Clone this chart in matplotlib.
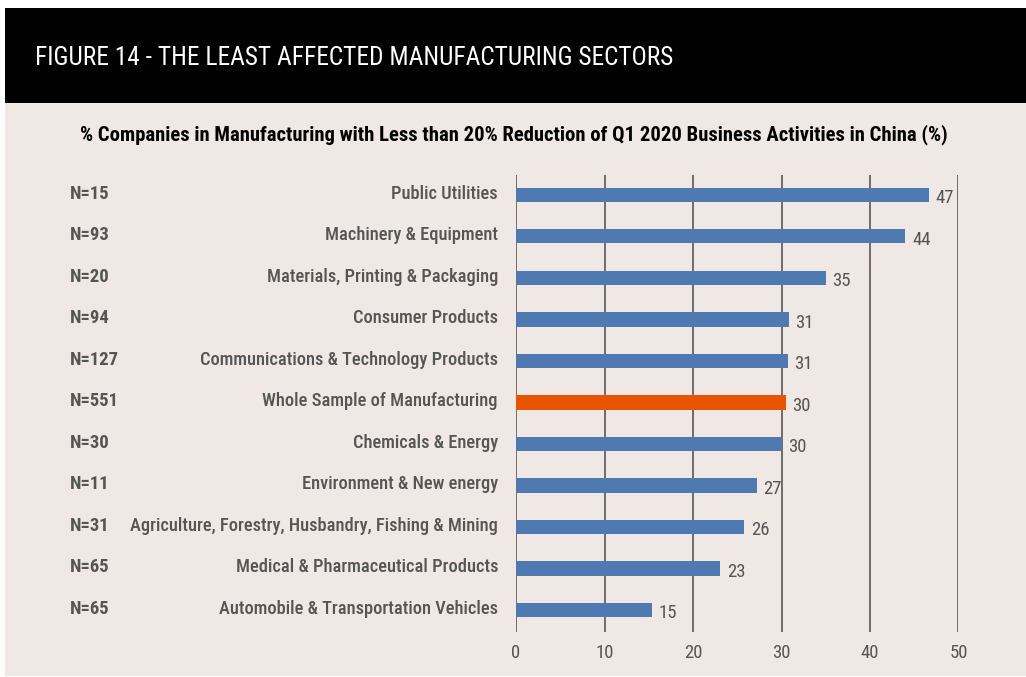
import matplotlib
matplotlib.use('Agg')
import matplotlib.pyplot as plt
from matplotlib.patches import Rectangle

plt.rcParams['font.family'] = ['Roboto Condensed', 'Archivo Narrow', 'DejaVu Sans']

sectors = [
    "Public Utilities",
    "Machinery & Equipment",
    "Materials, Printing & Packaging",
    "Consumer Products",
    "Communications & Technology Products",
    "Whole Sample of Manufacturing",
    "Chemicals & Energy",
    "Environment & New energy",
    "Agriculture, Forestry, Husbandry, Fishing & Mining",
    "Medical & Pharmaceutical Products",
    "Automobile & Transportation Vehicles",
]
sample_sizes = ["N=15", "N=93", "N=20", "N=94", "N=127", "N=551",
                "N=30", "N=11", "N=31", "N=65", "N=65"]
values = [46.7, 44.0, 35.0, 30.8, 30.7, 30.5, 30.0, 27.2, 25.8, 23.1, 15.4]
value_labels = ["47", "44", "35", "31", "31", "30", "30", "27", "26", "23", "15"]
highlight = "Whole Sample of Manufacturing"
xticks = [0, 10, 20, 30, 40, 50]

BLUE = '#4E7AB1'
ORANGE = '#E85400'
BG = '#EFE8E5'
GREY = '#555555'
W, H = 1026, 677

fig = plt.figure(figsize=(W / 100, H / 100), dpi=100)
fig.patch.set_facecolor('white')

# beige panel and black header band
fig.add_artist(Rectangle((5 / W, 1 / H), 1 - 5 / W, (H - 9) / H,
                         transform=fig.transFigure, facecolor=BG, edgecolor='none', zorder=0))
fig.add_artist(Rectangle((5 / W, 1 - 103 / H), 1 - 5 / W, 95 / H,
                         transform=fig.transFigure, facecolor='black', edgecolor='none', zorder=0))

fig.text(35 / W, 1 - 58 / H, "FIGURE 14 - THE LEAST AFFECTED MANUFACTURING SECTORS",
         color='white', fontsize=18.3, va='center', ha='left')
fig.text(514 / W, 1 - 135 / H,
         "% Companies in Manufacturing with Less than 20% Reduction of Q1 2020 Business Activities in China (%)",
         color='black', fontsize=14.9, fontweight='bold', va='center', ha='center')

ax = fig.add_axes([516 / W, 1 - 632 / H, 442.5 / W, 457 / H])
ax.set_facecolor('none')

pos = list(range(len(sectors)))
colors = [ORANGE if s == highlight else BLUE for s in sectors]
ax.barh(pos, values, height=0.34, color=colors, zorder=3)

for p, v, lab in zip(pos, values, value_labels):
    ax.text(v + 0.75, p + 0.08, lab, color=GREY, fontsize=13.5,
            va='center', ha='left', zorder=4)

for x in xticks:
    ax.axvline(x, color='#4a4a4a', lw=1.1, zorder=1)

ax.set_xlim(0, 50)
ax.set_ylim(10.53, -0.48)
ax.set_xticks(xticks)
ax.set_xticklabels([str(t) for t in xticks], color=GREY, fontsize=13.5)
ax.tick_params(axis='x', length=0, pad=9)
ax.set_yticks([])
for sp in ax.spines.values():
    sp.set_visible(False)

# sector names right-aligned left of the axis, sample sizes at the far left
ytrans = ax.get_yaxis_transform()
for p, name, n in zip(pos, sectors, sample_sizes):
    ax.annotate(name, xy=(0, p), xycoords=ytrans, xytext=(-18, 1), textcoords='offset pixels',
                ha='right', va='center', color=GREY, fontsize=13.2, fontweight='medium',
                annotation_clip=False)
    ax.annotate(n, xy=(70 / W, p), xycoords=('figure fraction', 'data'), xytext=(0, 1),
                textcoords='offset pixels', ha='left', va='center', color=GREY,
                fontsize=13.4, fontweight='semibold', annotation_clip=False)

fig.savefig('out.png', dpi=100, facecolor=fig.get_facecolor())
